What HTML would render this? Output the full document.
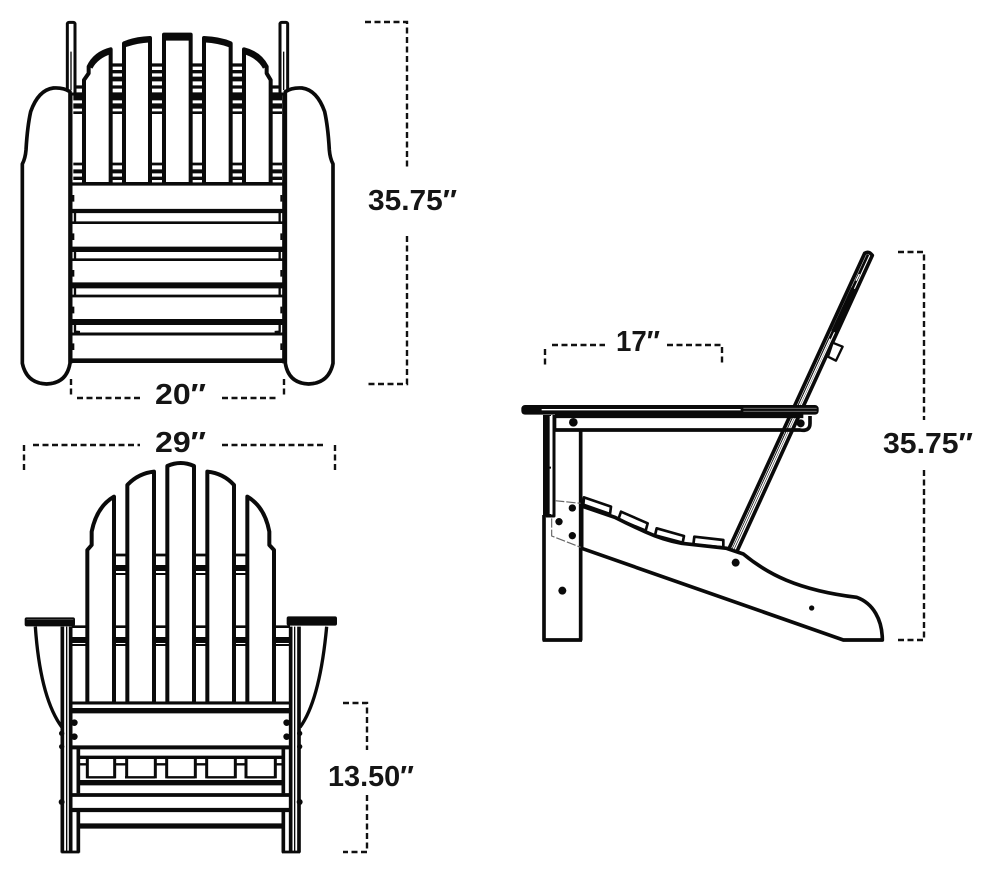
<!DOCTYPE html>
<html><head><meta charset="utf-8"><style>
html,body{margin:0;padding:0;background:#fff}
svg{display:block}
text{font-family:"Liberation Sans",sans-serif;font-weight:bold;font-size:29px;fill:#151515}
.d{stroke:#111;stroke-width:2.4;stroke-dasharray:6 3.5;fill:none}
.k{stroke:#0a0a0a;fill:none;stroke-linecap:butt;stroke-linejoin:round}
.w{stroke:#0a0a0a;fill:#fff;stroke-linejoin:round}
</style></head><body>
<svg width="990" height="874" viewBox="0 0 990 874" xmlns="http://www.w3.org/2000/svg">
<rect width="990" height="874" fill="#fff"/>

<!-- TOP VIEW -->
<g transform="translate(10,10) scale(.33333)">
  <!-- rails behind back -->
  <g class="k">
    <path stroke-width="10" d="M302 165H702M302 185H702"/>
    <path stroke-width="14" d="M302 207H702"/>
    <path stroke-width="10" d="M190 231H816"/>
    <path stroke-width="24" d="M190 259H816"/>
    <path stroke-width="16" d="M190 288H816"/>
    <path stroke-width="8" d="M190 308H816"/>
    <path stroke-width="8" d="M190 462H816"/>
    <path stroke-width="12" d="M190 484H816"/>
    <path stroke-width="10" d="M190 505H816"/>
  </g>
  <!-- slats -->
  <g class="w" stroke-width="12">
    <path d="M222 522V210L236 190V170Q255 130 302 118V522Z"/>
    <path d="M342 522V100Q375 86 420 84V522Z"/>
    <path d="M462 522V74H542V522Z"/>
    <path d="M582 522V84Q630 86 662 100V522Z"/>
    <path d="M702 522V118Q750 130 770 170V190L782 210V522Z"/>
  </g>
  <g class="k" stroke-width="16">
    <path d="M240 172Q258 138 302 124M342 105Q375 92 420 89M462 84H542M582 89Q630 92 662 105M702 124Q748 138 766 172"/>
  </g>
  <!-- posts -->
  <g class="w" stroke-width="9">
    <rect x="172" y="37" width="23" height="215" rx="5"/>
    <rect x="810" y="37" width="23" height="215" rx="5"/>
  </g>
  <path class="k" stroke-width="4" d="M183 125V240M821 125V240"/>
  <!-- seat -->
  <rect x="182" y="522" width="640" height="530" fill="#fff"/>
  <g class="k">
    <path stroke-width="10" d="M182 522H822"/>
    <path stroke-width="13" d="M182 603H822"/>
    <path stroke-width="8" d="M182 638H822"/>
    <path stroke-width="16" d="M182 718H822"/>
    <path stroke-width="8" d="M182 749H822"/>
    <path stroke-width="18" d="M182 826H822"/>
    <path stroke-width="8" d="M182 858H822"/>
    <path stroke-width="18" d="M182 936H822"/>
    <path stroke-width="9" d="M182 972H822"/>
    <path stroke-width="14" d="M182 1052H822"/>
    <path stroke-width="7" d="M195 600V638M195 718V749M195 826V858M195 936V965L210 966M809 600V638M809 718V749M809 826V858M809 936V965L794 966"/>
    <path stroke-width="11" d="M182 250V1060M822 250V1060"/>
    <path stroke-width="6" d="M190 555V575M190 670V690M190 780V800M190 890V910M190 1000V1020M814 555V575M814 670V690M814 780V800M814 890V910M814 1000V1020"/>
  </g>
  <!-- arms -->
  <path class="w" stroke-width="11" d="M180 245Q160 232 130 234Q85 240 62 305Q52 350 48 420Q46 445 37 462V1060Q50 1120 110 1122Q170 1120 180 1060Z"/>
  <path class="w" stroke-width="11" d="M826 245Q846 232 876 234Q921 240 944 305Q954 350 958 420Q960 445 969 462V1060Q956 1120 896 1122Q836 1120 826 1060Z"/>
</g>

<!-- FRONT VIEW -->
<g transform="translate(10,430) scale(.33333)">
  <!-- arm curves -->
  <path class="k" stroke-width="10" d="M76 590C85 720 110 830 156 892M950 590C938 720 915 830 870 892"/>
  <!-- rails -->
  <g class="k">
    <path stroke-width="8" d="M312 375H712M185 590H840"/>
    <path stroke-width="18" d="M312 414H712M185 630H840"/>
    <path stroke-width="6" d="M312 432H712M185 645H840"/>
  </g>
  <!-- slats -->
  <g class="w" stroke-width="12">
    <path d="M232 820V360L245 345V305Q260 230 312 200V820Z"/>
    <path d="M352 820V165Q385 130 432 125V820Z"/>
    <path d="M472 820V108Q512 90 552 108V820Z"/>
    <path d="M592 820V125Q640 130 672 165V820Z"/>
    <path d="M712 820V200Q764 230 778 305V345L792 360V820Z"/>
  </g>
  <!-- seat front -->
  <rect x="182" y="815" width="660" height="450" fill="#fff"/>
  <g class="k">
    <path stroke-width="9" d="M182 819H842"/>
    <path stroke-width="16" d="M182 842H842"/>
    <path stroke-width="12" d="M182 952H842"/>
    <path stroke-width="10" d="M205 982H820"/>
    <path stroke-width="7" d="M232 1042H315M345 1042H435M470 1042H555M590 1042H675M710 1042H795"/>
    <path stroke-width="16" d="M205 1058H820"/>
    <path stroke-width="11" d="M182 1095H842"/>
    <path stroke-width="13" d="M182 1140H842"/>
    <path stroke-width="16" d="M205 1188H820"/>
    <path stroke-width="9" d="M232 985V1045M314 985V1045M350 985V1045M436 985V1045M470 985V1045M556 985V1045M590 985V1045M676 985V1045M708 985V1045M796 985V1045"/>
    <path stroke-width="7" d="M205 1003H232M314 1003H350M436 1003H470M556 1003H590M676 1003H708M796 1003H820"/>
    <path stroke-width="11" d="M157 590V1268M182 590V1268M205 955V1090M205 1145V1268"/>
    <path stroke-width="11" d="M867 590V1268M842 590V1268M820 955V1090M820 1145V1268"/>
    <path stroke-width="8" d="M154 1266H208M816 1266H870"/>
  </g>
  <path class="k" stroke-width="4" d="M170 590V1264M854 590V1264"/>
  <g fill="#0a0a0a">
    <circle cx="193" cy="878" r="10"/><circle cx="193" cy="920" r="10"/>
    <circle cx="830" cy="878" r="10"/><circle cx="830" cy="920" r="10"/>
    <circle cx="155" cy="910" r="8"/><circle cx="155" cy="950" r="8"/><circle cx="155" cy="1116" r="9"/>
    <circle cx="869" cy="910" r="8"/><circle cx="869" cy="950" r="8"/><circle cx="869" cy="1116" r="9"/>
    <rect x="44" y="562" width="151" height="27" rx="6"/>
    <rect x="830" y="559" width="151" height="28" rx="6"/>
  </g>
  <path stroke="#666" stroke-width="2" fill="none" d="M50 568H190"/>
</g>

<!-- SIDE VIEW -->
<g transform="translate(510,240) scale(.33333)">
  <!-- back -->
  <path class="w" stroke-width="11" d="M656 928L1064 40Q1076 32 1087 46L680 936Z"/>
  <path class="k" stroke-width="8" d="M668 930L1074 44"/>
  <path stroke="#fff" stroke-width="4" fill="none" d="M668 930L960 296M1038 122L1048 102"/>
  <path class="k" stroke-width="14" d="M970 275L1030 145"/>
  <path class="w" stroke-width="7" d="M968 308L998 320L978 362L954 350Z"/>
  <!-- seat slats -->
  <g class="w" stroke-width="8">
    <path d="M222 772L303 800L300 822L220 794Z"/>
    <path d="M333 815L413 850L407 872L325 838Z"/>
    <path d="M440 865L522 888L518 908L435 886Z"/>
    <path d="M553 890L640 900L640 922L550 914Z"/>
  </g>
  <!-- stringer -->
  <path class="w" stroke-width="11" d="M215 798L315 832Q360 855 405 875Q460 900 515 910L650 925L700 942C770 1000 860 1050 1040 1072C1090 1090 1117 1140 1117 1200H1000L215 925Z"/>
  <!-- leg -->
  <g class="k">
    <path stroke-width="11" d="M102 825V1202M212 570V1202M98 1200H216"/>
    <path stroke-width="24" d="M111 525V830"/>
    <path stroke-width="9" d="M132 525V828H108"/>
  </g>
  <path stroke="#fff" stroke-width="4" fill="none" d="M121 528V680M121 686V822"/>
  <!-- dashed -->
  <path fill="none" stroke="#666" stroke-width="3.5" stroke-dasharray="28 6" d="M135 782L212 790M125 835V888L212 922"/>
  <!-- arm -->
  <path class="k" stroke-width="13" d="M135 528H880"/>
  <path class="k" stroke-width="11" d="M135 570H870Q900 575 900 550V528"/>
  <path class="k" stroke-width="8" d="M135 528V572"/>
  <rect x="34" y="495" width="892" height="29" rx="11" fill="#0a0a0a"/>
  <path stroke="#fff" stroke-width="4" fill="none" d="M95 509H692"/>
  <path stroke="#777" stroke-width="2.5" fill="none" d="M700 505H920M700 514H920"/>
  <g fill="#0a0a0a">
    <circle cx="190" cy="547" r="13"/><circle cx="872" cy="550" r="12"/>
    <circle cx="187" cy="804" r="11"/><circle cx="147" cy="845" r="11"/><circle cx="187" cy="887" r="11"/>
    <circle cx="157" cy="1052" r="12"/><circle cx="677" cy="968" r="12"/><circle cx="905" cy="1104" r="8"/>
  </g>
</g>

<!-- DIMENSIONS -->
<path class="d" d="M365 22H407V170M407 236V384H365"/>
<path class="d" d="M71 379V398M77 398H140M222 398H278M284 379V398"/>
<path class="d" d="M24 445V470M33 445H140M222 445H325M335 445V470"/>
<path class="d" d="M343 703H367V750M367 795V852H343"/>
<path class="d" d="M545 349V366M552 345H605M667 345H722V366"/>
<path class="d" d="M898 252H924V420M924 470V640H898"/>

<text x="368" y="210" textLength="89" lengthAdjust="spacingAndGlyphs">35.75″</text>
<text x="155" y="404" textLength="51" lengthAdjust="spacingAndGlyphs">20″</text>
<text x="155" y="452" textLength="51" lengthAdjust="spacingAndGlyphs">29″</text>
<text x="328" y="786" textLength="86" lengthAdjust="spacingAndGlyphs">13.50″</text>
<text x="616" y="351" textLength="44" lengthAdjust="spacingAndGlyphs">17″</text>
<text x="883" y="453" textLength="90" lengthAdjust="spacingAndGlyphs">35.75″</text>
</svg>
</body></html>
